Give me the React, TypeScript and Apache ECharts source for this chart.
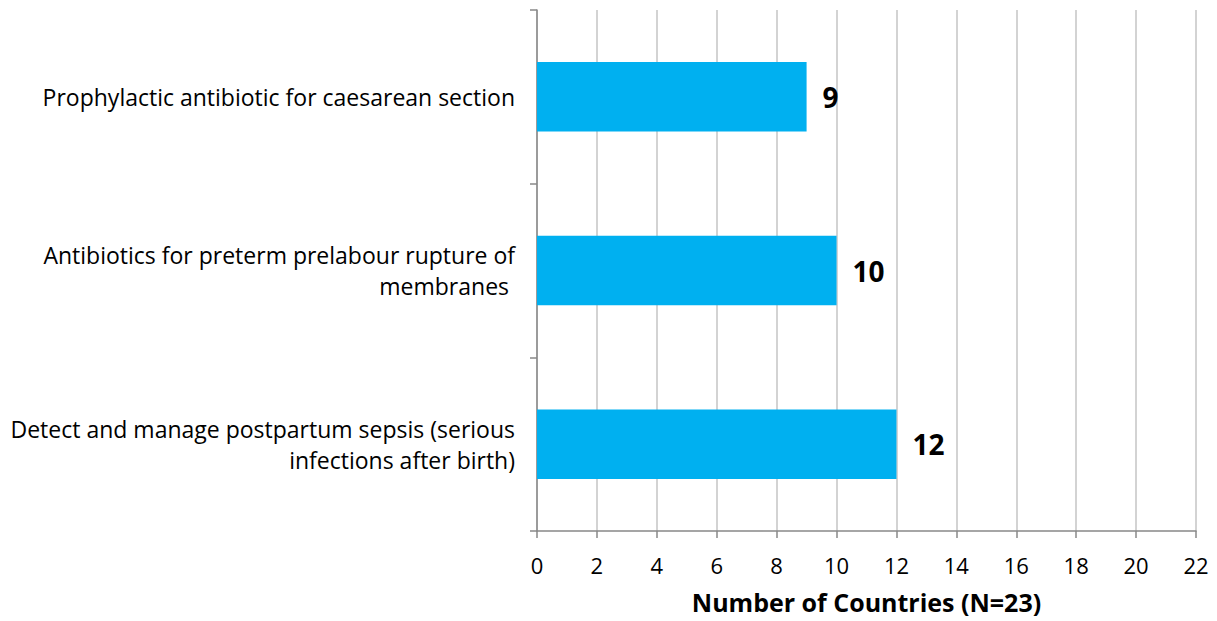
import React, { useEffect, useRef } from "react";
import * as echarts from "echarts";

const categories = [
  "Prophylactic antibiotic for caesarean section",
  "Antibiotics for preterm prelabour rupture of\nmembranes ",
  "Detect and manage postpartum sepsis (serious\ninfections after birth)",
];
const values = [9, 10, 12];
const axisName = "Number of Countries (N=23)";
const FONT = "'Open Sans', Lato, sans-serif";

export default function App() {
  const ref = useRef<HTMLDivElement>(null);
  useEffect(() => {
    const chart = echarts.init(ref.current!, null, { renderer: "svg" });
    chart.setOption({
      animation: false,
      grid: { left: 537, right: 21, top: 10, bottom: 90, containLabel: false },
      xAxis: {
        type: "value",
        min: 0,
        max: 22,
        interval: 2,
        name: axisName,
        nameLocation: "middle",
        nameGap: 58,
        nameTextStyle: { fontFamily: FONT, fontSize: 25, fontWeight: "bold", color: "#000", lineHeight: 26 },
        axisLine: { show: true, lineStyle: { color: "#888", width: 1.5 } },
        axisTick: { show: true, length: 7, lineStyle: { color: "#888", width: 1.5 } },
        axisLabel: { fontFamily: FONT, fontSize: 22, color: "#000", margin: 23 },
        splitLine: { show: true, lineStyle: { color: "#c4c4c4", width: 1.5 } },
      },
      yAxis: {
        type: "category",
        data: categories,
        inverse: true,
        axisLine: { show: true, lineStyle: { color: "#888", width: 1.5 } },
        axisTick: { show: true, length: 7, alignWithLabel: false, lineStyle: { color: "#888", width: 1.5 } },
        axisLabel: {
          fontFamily: FONT,
          fontSize: 23,
          color: "#000",
          margin: 22,
          align: "right",
          lineHeight: 31,
        },
        splitLine: { show: false },
      },
      series: [
        {
          type: "bar",
          data: values,
          barWidth: "40%",
          itemStyle: { color: "#00B0F0" },
          label: {
            show: true,
            position: "right",
            distance: 16,
            fontFamily: FONT,
            fontSize: 28,
            fontWeight: "bold",
            color: "#000",
          },
        },
      ],
    });
    return () => chart.dispose();
  }, []);
  return (
    <div
      ref={ref}
      style={{ position: "absolute", left: 0, top: 0, width: 1217, height: 621, overflow: "hidden" }}
    />
  );
}
